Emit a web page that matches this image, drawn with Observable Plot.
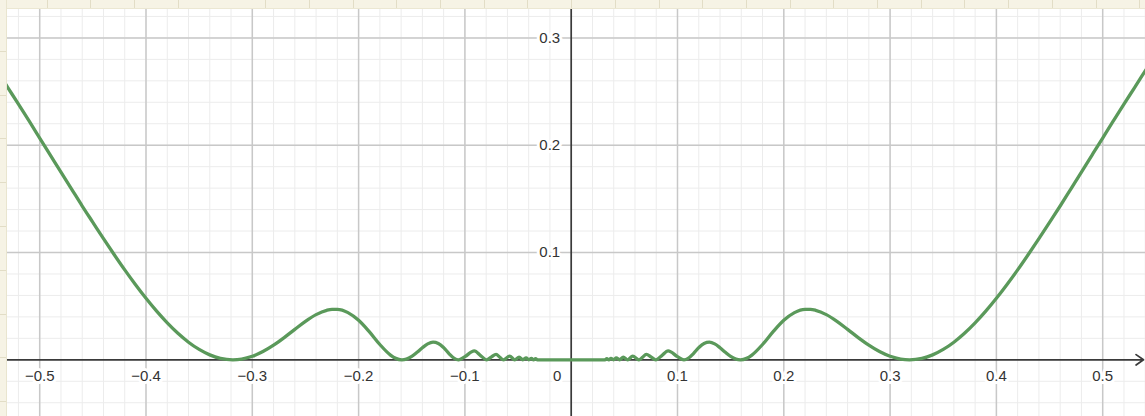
<!DOCTYPE html>
<html>
<head>
<meta charset="utf-8">
<script src="https://cdn.jsdelivr.net/npm/d3@7"></script>
<script src="https://cdn.jsdelivr.net/npm/@observablehq/plot@0.6"></script>
<style>
  html, body { margin: 0; padding: 0; background: #fff; }
  #wrap { position: relative; width: 1145px; height: 416px; overflow: hidden; }
  #wrap svg { position: absolute; left: 0; top: 0; }
  #topbar { position: absolute; left: 0; top: 0; width: 1145px; height: 8px;
    background-color: #f6f3e5;
    background-image: repeating-linear-gradient(to right, transparent 0 42.7px, #e2ddc6 42.7px 43.7px);
    background-position: 4px 0;
    border-bottom: 1px solid #ebe7d2; }
  #leftbar { position: absolute; left: 0; top: 0; width: 6px; height: 416px;
    background-color: #f6f3e5;
    background-image: repeating-linear-gradient(to bottom, transparent 0 42.8px, #e2ddc6 42.8px 43.8px);
    background-position: 0 8px;
    border-right: 1px solid #e9e5cf; }
</style>
</head>
<body>
<div id="wrap"><div id="chart"></div><div id="topbar"></div><div id="leftbar"></div></div>
<script>
// Curve: left branch (x ascending) and right branch
const xLeft = [-0.545, -0.54, -0.53, -0.52, -0.51, -0.50, -0.49, -0.48, -0.47, -0.46, -0.45, -0.44, -0.43, -0.42, -0.41, -0.40,
  -0.39, -0.38, -0.37, -0.36, -0.35, -0.34, -0.33, -0.3183, -0.31, -0.30, -0.29, -0.28, -0.27, -0.26, -0.25, -0.24, -0.23,
  -0.225, -0.22, -0.21, -0.20, -0.19, -0.18, -0.17, -0.165, -0.1592, -0.155, -0.15, -0.145, -0.14, -0.135, -0.13, -0.125,
  -0.12, -0.115, -0.11, -0.1061, -0.10, -0.0912, -0.085, -0.0796, -0.075, -0.0707, -0.067, -0.0637, -0.0579, -0.0531,
  -0.049, -0.0455, -0.0424, -0.0398, -0.0374, -0.0354, -0.0335, -0.0318];
const yLeft = [0.2766, 0.2692, 0.2537, 0.2383, 0.2226, 0.2067, 0.1908, 0.1749, 0.1591, 0.1433, 0.1281, 0.1129, 0.0981, 0.0838, 0.0702, 0.0573,
  0.0453, 0.0344, 0.0247, 0.0164, 0.00965, 0.00458, 0.00134, 0, 0.00068, 0.00327, 0.00767, 0.01361, 0.02071, 0.02836, 0.0358, 0.04207, 0.04615,
  0.04705, 0.04707, 0.04399, 0.03678, 0.02623, 0.01426, 0.0044, 0.00133, 0, 0.00068, 0.00315, 0.00697, 0.01125, 0.01483, 0.01646, 0.01529,
  0.01134, 0.00584, 0.0013, 0, 0.00296, 0.0083, 0.00373, 0, 0.00271, 0.005, 0.00223, 0, 0.00335, 0,
  0.0024, 0, 0.0018, 0, 0.0014, 0, 0.0011, 0];
const xRight = [0, 0.0318, 0.0335, 0.0354, 0.0374, 0.0398, 0.0424, 0.0455, 0.049, 0.0531, 0.0579, 0.0637, 0.067, 0.0707, 0.075,
  0.0796, 0.085, 0.0912, 0.10, 0.1061, 0.11, 0.115, 0.12, 0.125, 0.13, 0.135, 0.14, 0.145, 0.15, 0.155, 0.1592, 0.165, 0.17,
  0.18, 0.19, 0.20, 0.21, 0.22, 0.225, 0.23, 0.24, 0.25, 0.26, 0.27, 0.28, 0.29, 0.30, 0.31, 0.3183, 0.33, 0.34, 0.35, 0.36,
  0.37, 0.38, 0.39, 0.40, 0.41, 0.42, 0.43, 0.44, 0.45, 0.46, 0.47, 0.48, 0.49, 0.50, 0.51, 0.52, 0.53, 0.54, 0.545];
const yRight = [0, 0, 0.0011, 0, 0.0014, 0, 0.0018, 0, 0.0024, 0, 0.00335, 0, 0.00223, 0.005, 0.00271,
  0, 0.00373, 0.0083, 0.00296, 0, 0.0013, 0.00584, 0.01134, 0.01529, 0.01646, 0.01483, 0.01125, 0.00697, 0.00315, 0.00068, 0, 0.00133, 0.0044,
  0.01426, 0.02623, 0.03678, 0.04399, 0.04707, 0.04705, 0.04615, 0.04207, 0.0358, 0.02836, 0.02071, 0.01361, 0.00767, 0.00327, 0.00068, 0, 0.00134, 0.00458, 0.00965, 0.01641,
  0.02472, 0.03441, 0.04532, 0.05731, 0.07022, 0.08383, 0.09813, 0.1129, 0.12806, 0.14334, 0.15914, 0.17494, 0.19082, 0.2067, 0.22257, 0.23829, 0.2537, 0.26917, 0.2766];

// Axis ticks and labels
const xMajor = [-0.5, -0.4, -0.3, -0.2, -0.1, 0.1, 0.2, 0.3, 0.4, 0.5];
const xTickLabels = ["−0.5", "−0.4", "−0.3", "−0.2", "−0.1", "0.1", "0.2", "0.3", "0.4", "0.5"];
const yMajor = [0.1, 0.2, 0.3];
const yTickLabels = ["0.1", "0.2", "0.3"];
const originLabel = "0";

const xDomain = [-0.53688, 0.54027];
const yDomain = [-0.05284, 0.33486];

const curve = [
  ...xLeft.map((x, i) => ({x, y: yLeft[i]})),
  ...xRight.map((x, i) => ({x, y: yRight[i]}))
];
const xMinor = d3.range(-26, 28).map(k => k * 0.02);
const yMinor = d3.range(-2, 17).map(k => k * 0.02);

const font = "Liberation Sans, Arial, sans-serif";
const chart = Plot.plot({
  width: 1145,
  height: 416,
  marginTop: 0, marginRight: 0, marginBottom: 0, marginLeft: 0,
  x: {domain: xDomain, axis: null},
  y: {domain: yDomain, axis: null},
  style: {background: "white", fontFamily: font},
  marks: [
    Plot.ruleX(xMinor, {stroke: "#ececec", strokeWidth: 1}),
    Plot.ruleY(yMinor, {stroke: "#ececec", strokeWidth: 1}),
    Plot.ruleX(xMajor, {stroke: "#c8c8c8", strokeWidth: 1.5}),
    Plot.ruleY(yMajor, {stroke: "#c8c8c8", strokeWidth: 1.5}),
    Plot.ruleX([0], {stroke: "#3a3a3a", strokeWidth: 1.7}),
    Plot.arrow([{x1: xDomain[0], x2: xDomain[1], y1: 0, y2: 0}],
      {x1: "x1", x2: "x2", y1: "y1", y2: "y2", stroke: "#3a3a3a", strokeWidth: 1.7,
       headLength: 8, headAngle: 70, insetEnd: 2}),
    Plot.line(curve, {x: "x", y: "y", curve: "monotone-x", stroke: "#5a995a", strokeWidth: 3.3}),
    Plot.text(xMajor.map((v, i) => ({v, y: 0, label: xTickLabels[i]})),
      {x: "v", y: "y", text: "label", dy: 16.5, fontSize: 15, fill: "#333",
       stroke: "white", strokeWidth: 6, paintOrder: "stroke"}),
    Plot.text([{v: 0, y: 0, label: originLabel}],
      {x: "v", y: "y", text: "label", dx: -14, dy: 16.5, fontSize: 15, fill: "#333",
       stroke: "white", strokeWidth: 6, paintOrder: "stroke"}),
    Plot.text(yMajor.map((v, i) => ({x: 0, v, label: yTickLabels[i]})),
      {x: "x", y: "v", text: "label", dx: -11, textAnchor: "end", fontSize: 15, fill: "#333",
       stroke: "white", strokeWidth: 6, paintOrder: "stroke"})
  ]
});
document.getElementById("chart").appendChild(chart);
</script>
</body>
</html>
